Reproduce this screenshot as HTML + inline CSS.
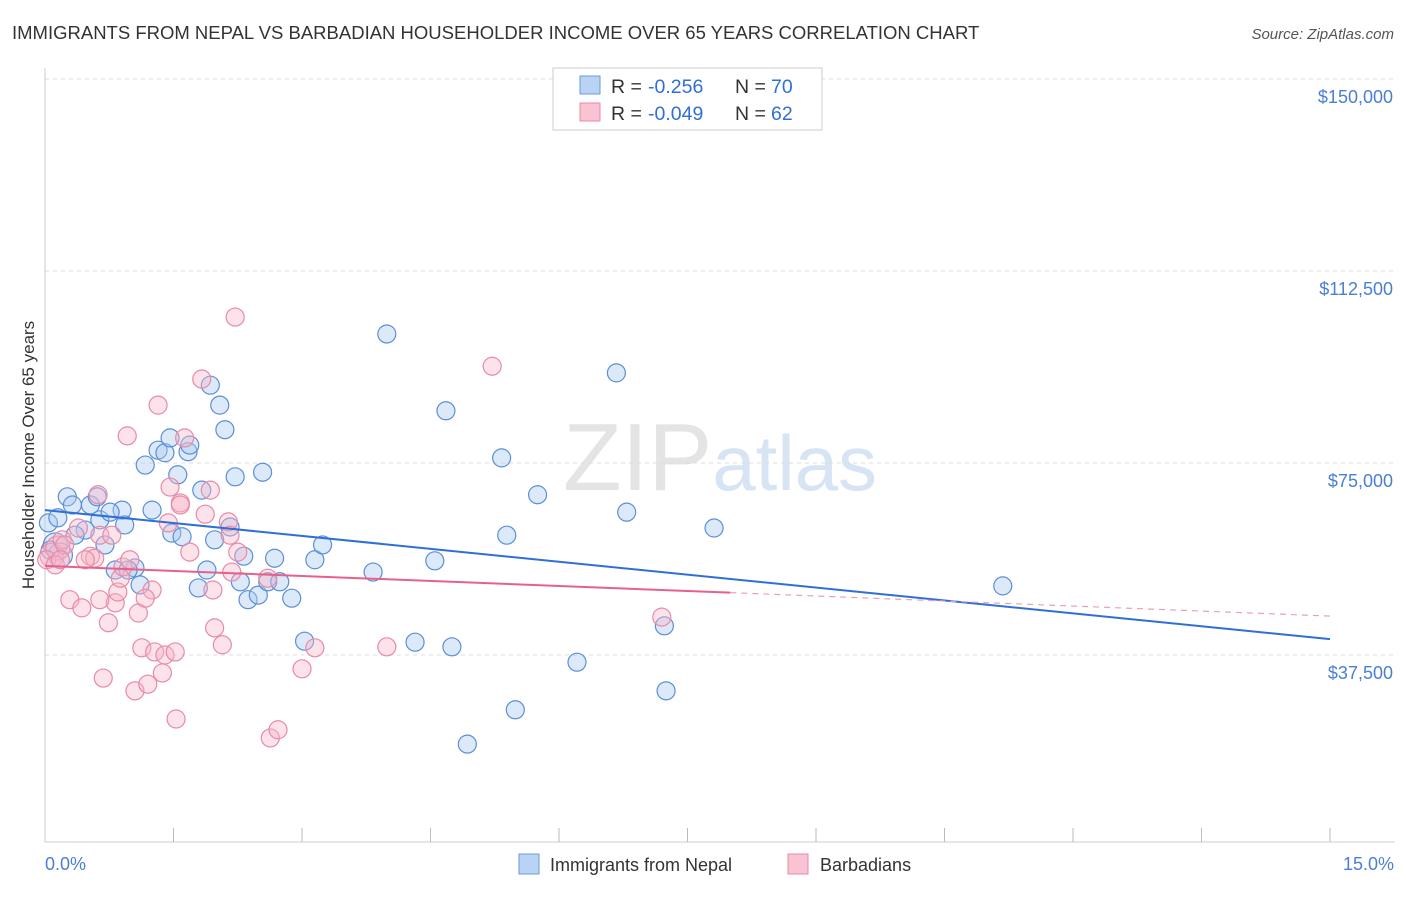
<!DOCTYPE html>
<html><head><meta charset="utf-8"><style>
body{margin:0;background:#fff;font-family:"Liberation Sans",sans-serif;}
svg text{font-family:"Liberation Sans",sans-serif;}
</style></head><body>
<svg id="chart" width="1406" height="892" xmlns="http://www.w3.org/2000/svg">
<text x="12" y="39" font-size="18.5" fill="#333">IMMIGRANTS FROM NEPAL VS BARBADIAN HOUSEHOLDER INCOME OVER 65 YEARS CORRELATION CHART</text>
<text x="1394" y="39" font-size="15" fill="#555" text-anchor="end" font-style="italic">Source: ZipAtlas.com</text>
<text x="720" y="490" font-size="96" text-anchor="middle" fill="#e4e4e4" font-family="Liberation Serif"><tspan>ZIP</tspan><tspan fill="#d6e4f3" font-family="Liberation Sans" font-size="78">atlas</tspan></text>
<g id="grid"></g><g id="axes"></g><g id="pts"></g><g id="lines"></g>
<text transform="translate(34,455) rotate(-90)" font-size="17" fill="#333" text-anchor="middle">Householder Income Over 65 years</text>
<text x="45" y="870" font-size="18" fill="#4a7fd4">0.0%</text>
<text x="1394" y="870" font-size="18" fill="#4a7fd4" text-anchor="end">15.0%</text>
<g>
<rect x="553" y="68" width="269" height="62" fill="#fff" stroke="#ccc"/>
<rect x="580" y="76" width="20" height="18" fill="#b8d3f3" stroke="#6b9bd8"/>
<rect x="580" y="103" width="20" height="18" fill="#f9c3d2" stroke="#e88aa8"/>
<text x="611" y="93" font-size="19.5" fill="#333">R =</text>
<text x="648" y="93" font-size="19.5" fill="#2f6fd6">-0.256</text>
<text x="735" y="93" font-size="19.5" fill="#333">N =</text>
<text x="771" y="93" font-size="19.5" fill="#2f6fd6">70</text>
<text x="611" y="120" font-size="19.5" fill="#333">R =</text>
<text x="648" y="120" font-size="19.5" fill="#2f6fd6">-0.049</text>
<text x="735" y="120" font-size="19.5" fill="#333">N =</text>
<text x="771" y="120" font-size="19.5" fill="#2f6fd6">62</text>
</g>
<g>
<rect x="519" y="854" width="20" height="20" fill="#b8d3f3" stroke="#6b9bd8"/>
<text x="550" y="871" font-size="18" fill="#333">Immigrants from Nepal</text>
<rect x="788" y="854" width="20" height="20" fill="#f9c3d2" stroke="#e88aa8"/>
<text x="820" y="871" font-size="18" fill="#333">Barbadians</text>
</g>
</svg>
<script>
const yTicks=[150000,112500,75000,37500];
const yTickLabels=["$150,000","$112,500","$75,000","$37,500"];
const blueX=[0.12,0.18,0.26,0.32,0.53,0.61,0.47,0.64,0.70,0.82,0.90,0.93,1.05,1.11,1.17,1.25,1.32,1.40,1.46,1.48,1.55,1.60,1.67,1.69,1.79,1.83,1.89,1.93,1.98,2.04,2.10,2.16,2.22,2.28,2.32,2.37,2.49,2.54,2.60,2.68,2.74,2.88,3.03,3.15,3.24,3.83,3.99,4.32,4.55,4.68,4.75,5.33,5.39,5.49,5.75,6.21,6.67,6.79,7.23,7.25,7.81,11.18,4.93,0.04,0.15,0.06,0.35,0.76,0.97];
const blueY=[59000,57000,68400,66800,66800,68400,61900,63900,59000,54100,65800,62900,54500,51200,74600,65800,77500,77000,79900,61300,72700,60600,77200,78500,50600,69700,54100,90200,60000,86300,81500,62500,72300,51800,56800,48300,49200,73200,51800,56400,51800,48600,40200,56100,59000,53700,100200,40000,55900,85200,39100,76000,60900,26800,68800,36100,92600,65400,43200,30500,62300,51000,20100,63300,64300,58000,60900,65400,54100];
const pinkX=[0.08,0.15,0.20,0.29,0.39,0.43,0.53,0.58,0.62,0.64,0.68,0.74,0.78,0.82,0.85,0.88,0.91,0.96,0.99,1.05,1.09,1.13,1.20,1.25,1.28,1.32,1.37,1.40,1.44,1.46,1.52,1.53,1.58,1.63,1.69,1.83,1.87,1.96,1.98,2.07,2.14,2.18,2.22,2.25,2.60,2.63,2.72,3.00,3.15,3.99,5.22,7.20,0.02,0.12,0.23,0.47,0.64,1.17,1.93,1.58,0.18,2.16];
const pinkY=[57000,58400,60000,48300,62300,46700,56800,56400,68800,60900,33000,43800,60900,47700,49800,52500,54700,80300,56100,30500,45700,38900,31800,50200,38100,86300,34000,37500,63300,70300,38100,25000,67200,79900,57600,91400,65000,50200,42800,39500,63500,53700,103500,57600,52500,21300,22900,34800,38900,39100,93900,44900,56100,55100,59000,56100,48300,48600,69700,66800,56100,60900];
const blueTrend=[65800,40600];
const pinkTrend=[54900,45100];
const pinkSolidEnd=8.0;
const X=p=>45+p*(1285/15), Y=v=>79+(150000-v)*192/37500;
const NS="http://www.w3.org/2000/svg";
function mk(t,a,parent){const e=document.createElementNS(NS,t);for(const k in a)e.setAttribute(k,a[k]);document.getElementById(parent).appendChild(e);return e;}
yTicks.forEach((v,i)=>{
 const l=mk('line',{x1:45,x2:1395,y1:Y(v),y2:Y(v),stroke:'#ddd','stroke-dasharray':'4,4'},'grid');
 
 
 const t=mk('text',{x:1393,y:Y(v)+24,'font-size':18,fill:'#4a7fd4','text-anchor':'end'},'grid');
 t.textContent=yTickLabels[i];
 
 
});
const ax=mk('line',{x1:45,x2:45,y1:68,y2:842,stroke:'#ccc'},'axes');


const bx=mk('line',{x1:45,x2:1395,y1:842,y2:842,stroke:'#ccc'},'axes');


for(let i=1;i<=10;i++){const t=mk('line',{x1:X(i*1.5),x2:X(i*1.5),y1:828,y2:842,stroke:'#bbb'},'axes');
 
 }
function dots(xs,ys,fill,stroke,name){xs.forEach((x,i)=>{
 const r=(x<0.2&&i<3)?12:9;
 const c=mk('circle',{cx:X(x),cy:Y(ys[i]),r:r,fill:fill,'fill-opacity':0.4,stroke:stroke,'stroke-width':1.2},'pts');
 
 
});}
dots(blueX,blueY,'#a8c8f0','#5b8fd6','nepal-point');
dots(pinkX,pinkY,'#f7b6c8','#e88aa8','barbadian-point');
const bl=mk('line',{x1:X(0),y1:Y(blueTrend[0]),x2:X(15),y2:Y(blueTrend[1]),stroke:'#2f6fd6','stroke-width':2},'lines');


const pv=p=>pinkTrend[0]+(pinkTrend[1]-pinkTrend[0])*p/15;
const pl=mk('line',{x1:X(0),y1:Y(pv(0)),x2:X(pinkSolidEnd),y2:Y(pv(pinkSolidEnd)),stroke:'#e8608a','stroke-width':2},'lines');


const pd=mk('line',{x1:X(pinkSolidEnd),y1:Y(pv(pinkSolidEnd)),x2:X(15),y2:Y(pv(15)),stroke:'#e8a0b8','stroke-width':1.2,'stroke-dasharray':'6,5'},'lines');


</script>
</body></html>
